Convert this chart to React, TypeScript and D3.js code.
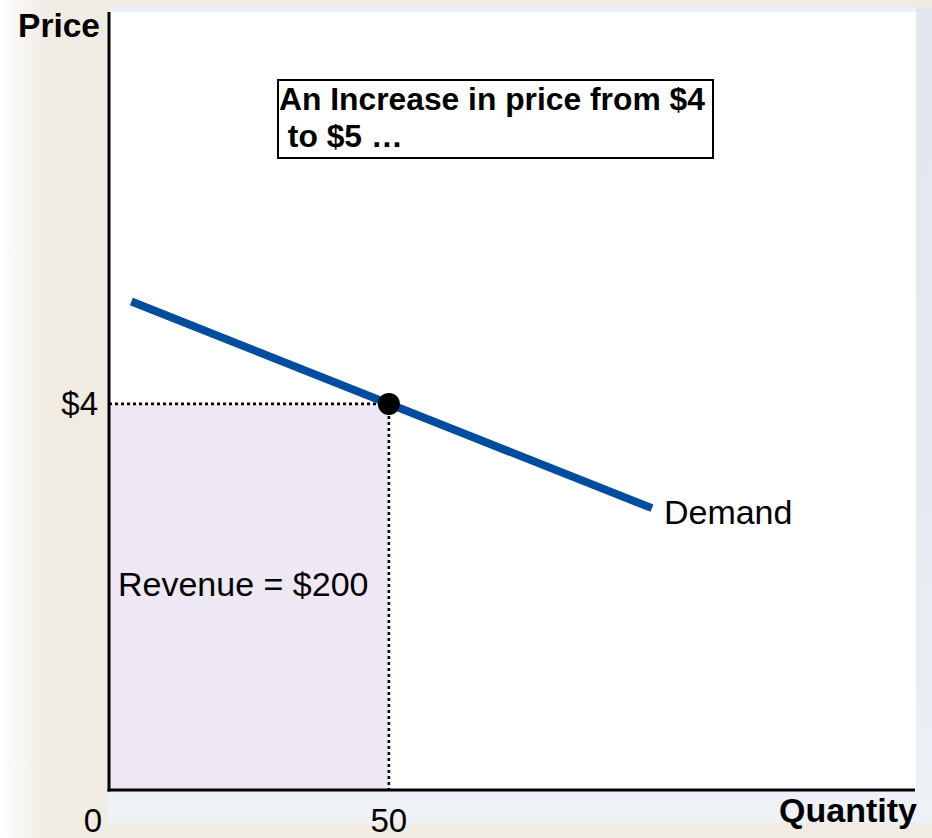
import React from "react";
import * as d3 from "d3";

const W = 932;
const H = 838;

// Data
const demandQ = [4, 97];
const demandP = [5.06, 2.92];
const pointQ = 50;
const pointP = 4;
const xTickValues = [0, 50];
const xTickLabels = ["0", "50"];
const yTickValues = [4];
const yTickLabels = ["$4"];
const revenue = pointQ * pointP;
const boxLines = ["An Increase in price from $4", " to $5 \u2026"];

const FONT = "'Liberation Sans', Arial, Helvetica, sans-serif";

export default function App() {
  const x = d3.scaleLinear().domain([0, 144]).range([109, 915]);
  const y = d3.scaleLinear().domain([0, 8.06]).range([790, 12]);
  const demand = demandQ.map((q, i) => [x(q), y(demandP[i])] as [number, number]);
  const line = d3.line();
  const px = x(pointQ);
  const py = y(pointP);

  return (
    <svg
      width={W}
      height={H}
      style={{ position: "absolute", left: 0, top: 0, display: "block" }}
    >
      <defs>
        <linearGradient id="leftFade" x1="0" x2="1" y1="0" y2="0">
          <stop offset="0" stopColor="#ffffff" />
          <stop offset="1" stopColor="#f0ece4" />
        </linearGradient>
        <linearGradient id="bottomBand" x1="0" x2="0" y1="0" y2="1">
          <stop offset="0" stopColor="#e4e7ef" />
          <stop offset="0.6" stopColor="#e6e9f1" />
          <stop offset="1" stopColor="#eef1f6" />
        </linearGradient>
      </defs>
      <rect x={0} y={0} width={W} height={H} fill="#f0ece4" />
      <rect x={0} y={0} width={45} height={H} fill="url(#leftFade)" />
      <rect x={108} y={7} width={W - 108} height={816} fill="url(#bottomBand)" />
      <rect x={108} y={7} width={808} height={6} fill="#edf1f7" />
      <rect x={x(0)} y={y(8.06)} width={916 - x(0)} height={y(0) - y(8.06)} fill="#ffffff" />

      {/* revenue area */}
      <rect x={x(0)} y={py} width={px - x(0)} height={y(0) - py} fill="#ede8f3" />
      <line x1={x(0)} x2={px} y1={py} y2={py} stroke="#000" strokeWidth={2.6} strokeDasharray="3,3" />
      <line x1={px} x2={px} y1={py} y2={y(0)} stroke="#000" strokeWidth={2.6} strokeDasharray="3,3" />

      {/* axes */}
      <line x1={x(0)} x2={x(0)} y1={y(8.06)} y2={y(0) + 1.5} stroke="#000" strokeWidth={3} />
      <line x1={x(0) - 1.5} x2={915} y1={y(0)} y2={y(0)} stroke="#000" strokeWidth={3} />

      {/* demand */}
      <path d={line(demand) || ""} stroke="#004d9e" strokeWidth={8} fill="none" />
      <circle cx={px} cy={py} r={11} fill="#000" />

      {/* labels */}
      <g fontFamily={FONT} fill="#000">
        <text x={100} y={37} fontSize={33.5} fontWeight="bold" textAnchor="end">Price</text>
        <text x={917} y={822} fontSize={34} fontWeight="bold" textAnchor="end">Quantity</text>
        {yTickValues.map((v, i) => (
          <text key={v} x={98} y={y(v) + 11} fontSize={33} textAnchor="end">{yTickLabels[i]}</text>
        ))}
        {xTickValues.map((v, i) => (
          <text key={v} x={v === 0 ? x(v) - 16 : x(v)} y={832} fontSize={33} textAnchor="middle">{xTickLabels[i]}</text>
        ))}
        <text x={x(demandQ[1]) + 12} y={y(demandP[1]) + 16} fontSize={34}>Demand</text>
        <text x={118} y={596} fontSize={34}>{`Revenue = $${revenue}`}</text>
      </g>

      {/* annotation box */}
      <rect x={278} y={80} width={435} height={78} fill="#fff" stroke="#000" strokeWidth={2} />
      <g fontFamily={FONT} fontWeight="bold" fontSize={31.8} fill="#000">
        {boxLines.map((t, i) => (
          <text key={i} x={279} y={110 + i * 37} style={{ whiteSpace: "pre" }}>{t}</text>
        ))}
      </g>
    </svg>
  );
}
